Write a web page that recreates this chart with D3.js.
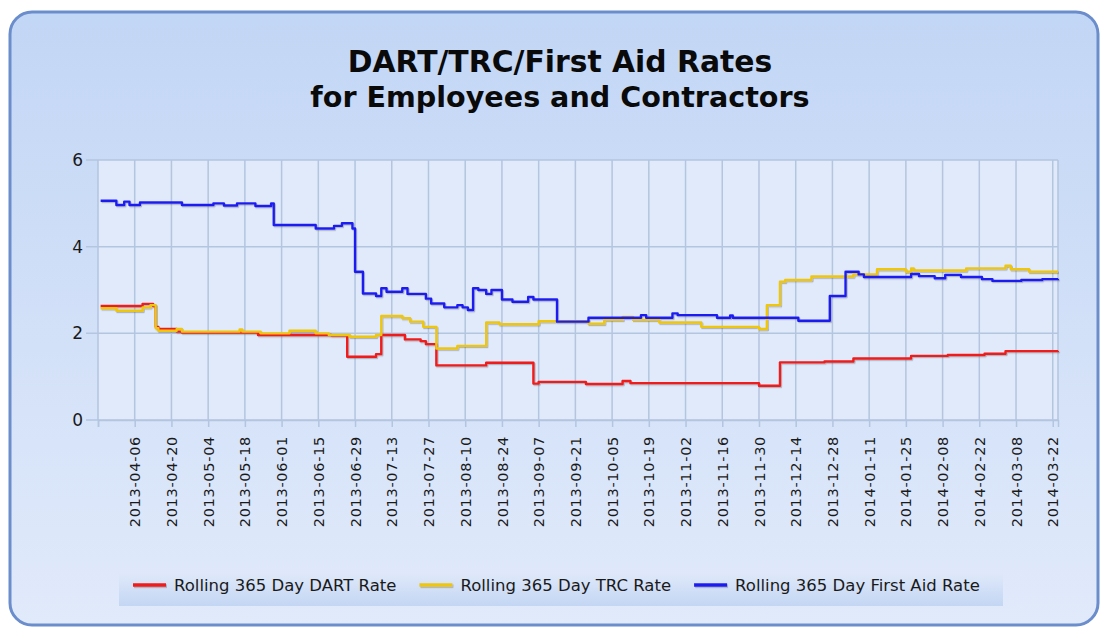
<!DOCTYPE html>
<html>
<head>
<meta charset="utf-8">
<script src="https://cdn.jsdelivr.net/npm/d3@7"></script>
<style>
  html, body { margin: 0; padding: 0; background: #ffffff; }
  svg text { font-family: "DejaVu Sans", Verdana, sans-serif; }
</style>
</head>
<body>
<div id="chart"></div>
<script>
const titleLines = ['DART/TRC/First Aid Rates', 'for Employees and Contractors'];
const legendLabels = ['Rolling 365 Day DART Rate', 'Rolling 365 Day TRC Rate', 'Rolling 365 Day First Aid Rate'];
const seriesColors = ['#f01a1a', '#eec60c', '#1f1ff2'];
const yTicks = [0, 2, 4, 6];
const xTickLabels = [
  '2013-04-06', '2013-04-20', '2013-05-04', '2013-05-18', '2013-06-01', '2013-06-15',
  '2013-06-29', '2013-07-13', '2013-07-27', '2013-08-10', '2013-08-24', '2013-09-07',
  '2013-09-21', '2013-10-05', '2013-10-19', '2013-11-02', '2013-11-16', '2013-11-30',
  '2013-12-14', '2013-12-28', '2014-01-11', '2014-01-25', '2014-02-08', '2014-02-22',
  '2014-03-08', '2014-03-22'
];
const dateRange = ['2013-03-23', '2014-03-24'];

// [date, value] at each change of the rolling rate
const dartRate = [
  ['2013-03-24', 2.63], ['2013-04-09', 2.68], ['2013-04-13', 2.63], ['2013-04-14', 2.15],
  ['2013-04-15', 2.10], ['2013-04-22', 2.04], ['2013-04-24', 2.02], ['2013-05-23', 1.96],
  ['2013-06-20', 1.95], ['2013-06-26', 1.46], ['2013-07-07', 1.52], ['2013-07-09', 1.96],
  ['2013-07-18', 1.86], ['2013-07-24', 1.82], ['2013-07-26', 1.75], ['2013-07-30', 1.26],
  ['2013-08-18', 1.32], ['2013-09-05', 0.84], ['2013-09-07', 0.88], ['2013-09-25', 0.83],
  ['2013-10-09', 0.90], ['2013-10-12', 0.85], ['2013-11-30', 0.79], ['2013-12-08', 1.33],
  ['2013-12-25', 1.35], ['2014-01-05', 1.42], ['2014-01-27', 1.48], ['2014-02-10', 1.50],
  ['2014-02-24', 1.53], ['2014-03-04', 1.59], ['2014-03-24', 1.60]
];
const trcRate = [
  ['2013-03-24', 2.58], ['2013-03-30', 2.52], ['2013-04-09', 2.60], ['2013-04-12', 2.65],
  ['2013-04-14', 2.12], ['2013-04-15', 2.06], ['2013-04-22', 2.10], ['2013-04-24', 2.04],
  ['2013-05-16', 2.09], ['2013-05-17', 2.04], ['2013-05-24', 2.00], ['2013-06-04', 2.06],
  ['2013-06-14', 2.00], ['2013-06-19', 1.96], ['2013-06-27', 1.92], ['2013-07-07', 1.96],
  ['2013-07-09', 2.40], ['2013-07-17', 2.35], ['2013-07-20', 2.27], ['2013-07-25', 2.15],
  ['2013-07-30', 1.65], ['2013-08-07', 1.71], ['2013-08-18', 2.25], ['2013-08-23', 2.21],
  ['2013-09-07', 2.28], ['2013-09-26', 2.22], ['2013-10-02', 2.31], ['2013-10-09', 2.38],
  ['2013-10-13', 2.31], ['2013-10-23', 2.25], ['2013-11-08', 2.15], ['2013-11-30', 2.10],
  ['2013-12-03', 2.65], ['2013-12-08', 3.19], ['2013-12-10', 3.23], ['2013-12-20', 3.31],
  ['2014-01-05', 3.36], ['2014-01-14', 3.48], ['2014-01-25', 3.42], ['2014-01-27', 3.50],
  ['2014-01-28', 3.45], ['2014-02-17', 3.50], ['2014-03-04', 3.56], ['2014-03-06', 3.48],
  ['2014-03-13', 3.42], ['2014-03-24', 3.42]
];
const firstAidRate = [
  ['2013-03-24', 5.06], ['2013-03-30', 4.96], ['2013-04-02', 5.04], ['2013-04-04', 4.96],
  ['2013-04-08', 5.02], ['2013-04-24', 4.96], ['2013-05-06', 5.00], ['2013-05-10', 4.95],
  ['2013-05-15', 5.00], ['2013-05-22', 4.94], ['2013-05-28', 5.00], ['2013-05-29', 4.50],
  ['2013-06-14', 4.42], ['2013-06-21', 4.48], ['2013-06-24', 4.54], ['2013-06-28', 4.42],
  ['2013-06-29', 3.42], ['2013-07-02', 2.92], ['2013-07-07', 2.86], ['2013-07-09', 3.04],
  ['2013-07-11', 2.96], ['2013-07-17', 3.04], ['2013-07-19', 2.91], ['2013-07-26', 2.80],
  ['2013-07-28', 2.69], ['2013-08-02', 2.60], ['2013-08-07', 2.65], ['2013-08-09', 2.60],
  ['2013-08-11', 2.54], ['2013-08-13', 3.04], ['2013-08-15', 3.00], ['2013-08-18', 2.91],
  ['2013-08-20', 3.00], ['2013-08-24', 2.78], ['2013-08-28', 2.73], ['2013-09-03', 2.84],
  ['2013-09-05', 2.78], ['2013-09-14', 2.27], ['2013-09-26', 2.36], ['2013-10-16', 2.42],
  ['2013-10-18', 2.36], ['2013-10-28', 2.46], ['2013-10-30', 2.42], ['2013-11-14', 2.36],
  ['2013-11-19', 2.41], ['2013-11-20', 2.36], ['2013-12-15', 2.29], ['2013-12-27', 2.86],
  ['2014-01-02', 3.42], ['2014-01-07', 3.36], ['2014-01-09', 3.30], ['2014-01-27', 3.37],
  ['2014-01-30', 3.32], ['2014-02-05', 3.27], ['2014-02-09', 3.35], ['2014-02-15', 3.30],
  ['2014-02-23', 3.25], ['2014-02-27', 3.21], ['2014-03-10', 3.23], ['2014-03-18', 3.25],
  ['2014-03-24', 3.26]
];

const parse = d3.timeParse('%Y-%m-%d');
const fmt = d3.timeFormat('%Y-%m-%d');

const W = 1104, H = 628;
const plot = { left: 98, right: 1058, top: 160, bottom: 420 };

const svg = d3.select('#chart')
  .append('svg')
  .attr('width', W)
  .attr('height', H);

const defs = svg.append('defs');

const panelGrad = defs.append('linearGradient')
  .attr('id', 'panelGrad')
  .attr('x1', 0).attr('y1', 0).attr('x2', 0).attr('y2', 1);
panelGrad.append('stop').attr('offset', '0%').attr('stop-color', '#c2d6f5');
panelGrad.append('stop').attr('offset', '55%').attr('stop-color', '#d3e1f8');
panelGrad.append('stop').attr('offset', '100%').attr('stop-color', '#e1eafb');

const legendGrad = defs.append('linearGradient')
  .attr('id', 'legendGrad')
  .attr('x1', 0).attr('y1', 0).attr('x2', 0).attr('y2', 1);
legendGrad.append('stop').attr('offset', '0%').attr('stop-color', '#e0e9fa');
legendGrad.append('stop').attr('offset', '100%').attr('stop-color', '#c3d6f3');

// user-space region so flat legend lines keep their shadow too
const shadow = defs.append('filter')
  .attr('id', 'lineShadow')
  .attr('filterUnits', 'userSpaceOnUse')
  .attr('x', 0).attr('y', 0).attr('width', W).attr('height', H);
shadow.append('feDropShadow')
  .attr('dx', 1).attr('dy', 1.2).attr('stdDeviation', 0.6)
  .attr('flood-color', '#555').attr('flood-opacity', 0.35);

// outer rounded panel
svg.append('rect')
  .attr('x', 10).attr('y', 12)
  .attr('width', 1088).attr('height', 613)
  .attr('rx', 22).attr('ry', 22)
  .attr('fill', 'url(#panelGrad)')
  .attr('stroke', '#6b8dcb')
  .attr('stroke-width', 3);

// title
svg.append('text')
  .attr('x', 560)
  .attr('y', 72)
  .attr('text-anchor', 'middle')
  .attr('font-size', 29)
  .attr('font-weight', 'bold')
  .attr('fill', '#0a0a0a')
  .selectAll('tspan')
  .data(titleLines)
  .enter()
  .append('tspan')
  .attr('x', 560)
  .attr('dy', (d, i) => (i === 0 ? 0 : 35))
  .attr('font-size', (d, i) => (i === 0 ? 29.8 : 28.6))
  .text(d => d);

const x = d3.scaleTime()
  .domain(dateRange.map(parse))
  .range([plot.left, plot.right]);

const y = d3.scaleLinear()
  .domain([0, 6])
  .range([plot.bottom, plot.top]);

// plot background
svg.append('rect')
  .attr('x', plot.left).attr('y', plot.top)
  .attr('width', plot.right - plot.left)
  .attr('height', plot.bottom - plot.top)
  .attr('fill', '#e0eafb');

const gridColor = '#b3c5df';
const tickDates = [parse(dateRange[0])].concat(xTickLabels.map(parse));

// vertical grid
svg.append('g')
  .selectAll('line')
  .data(tickDates.concat([parse(dateRange[1])]))
  .enter()
  .append('line')
  .attr('x1', d => x(d)).attr('x2', d => x(d))
  .attr('y1', plot.top).attr('y2', plot.bottom)
  .attr('stroke', gridColor)
  .attr('stroke-width', 1.5);

// horizontal grid (extends left as the tick marks)
svg.append('g')
  .selectAll('line')
  .data(yTicks)
  .enter()
  .append('line')
  .attr('x1', plot.left - 12).attr('x2', plot.right)
  .attr('y1', d => y(d)).attr('y2', d => y(d))
  .attr('stroke', gridColor)
  .attr('stroke-width', 1.5);

// y axis labels
const yAxis = svg.append('g')
  .attr('transform', `translate(${plot.left},0)`)
  .call(d3.axisLeft(y).tickValues(yTicks).tickSize(0).tickPadding(15).tickFormat(d3.format('d')));
yAxis.select('.domain').remove();
yAxis.selectAll('text')
  .attr('font-size', 17)
  .attr('fill', '#1a1a1a')
  .style('font-family', '"DejaVu Sans", Verdana, sans-serif');

// x axis
const xAxis = svg.append('g')
  .attr('transform', `translate(0,${plot.bottom})`)
  .call(d3.axisBottom(x)
    .tickValues(tickDates)
    .tickSize(7)
    .tickFormat(d => (xTickLabels.includes(fmt(d)) ? fmt(d) : '')));
xAxis.select('.domain').attr('stroke', gridColor).attr('stroke-width', 1.5);
xAxis.selectAll('.tick line').attr('stroke', gridColor).attr('stroke-width', 1.5);
xAxis.selectAll('text')
  .attr('transform', 'rotate(-90)')
  .attr('x', -16)
  .attr('y', 0)
  .attr('dy', '0.35em')
  .attr('text-anchor', 'end')
  .attr('font-size', 14.5)
  .attr('letter-spacing', 0.7)
  .attr('fill', '#1a1a1a')
  .style('font-family', '"DejaVu Sans", Verdana, sans-serif');

// series
const series = [dartRate, trcRate, firstAidRate].map((rows, i) => ({
  name: legendLabels[i],
  color: seriesColors[i],
  values: rows.map(r => ({ date: parse(r[0]), value: r[1] }))
}));

const line = d3.line()
  .x(d => x(d.date))
  .y(d => y(d.value))
  .curve(d3.curveStepAfter);

svg.append('g')
  .attr('filter', 'url(#lineShadow)')
  .selectAll('path')
  .data(series)
  .enter()
  .append('path')
  .attr('d', d => line(d.values))
  .attr('fill', 'none')
  .attr('stroke', d => d.color)
  .attr('stroke-width', 2.4)
  .attr('stroke-linejoin', 'round');

// legend
svg.append('rect')
  .attr('x', 119).attr('y', 572)
  .attr('width', 884).attr('height', 34)
  .attr('fill', 'url(#legendGrad)');

let lx = 133;
series.forEach(s => {
  svg.append('line')
    .attr('x1', lx).attr('x2', lx + 33)
    .attr('y1', 585).attr('y2', 585)
    .attr('stroke', s.color)
    .attr('stroke-width', 3.5)
    .attr('filter', 'url(#lineShadow)');
  const t = svg.append('text')
    .attr('x', lx + 41)
    .attr('y', 591)
    .attr('font-size', 16.5)
    .attr('fill', '#1a1a1a')
    .text(s.name);
  lx += 41 + t.node().getComputedTextLength() + 23;
});
</script>
</body>
</html>
